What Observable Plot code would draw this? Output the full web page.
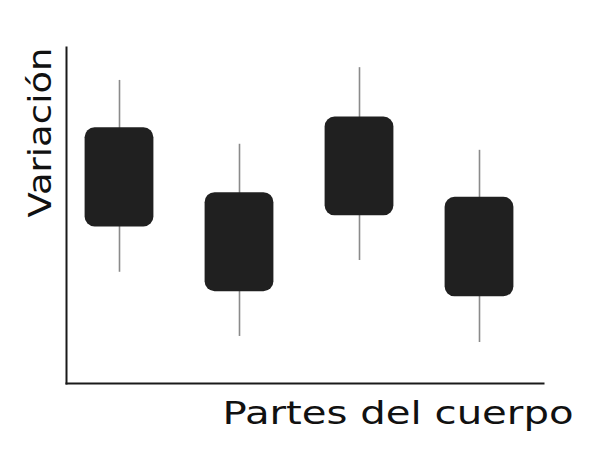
<!DOCTYPE html>
<html>
<head>
<meta charset="utf-8">
<script src="https://cdn.jsdelivr.net/npm/d3@7"></script>
<script src="https://cdn.jsdelivr.net/npm/@observablehq/plot@0.6"></script>
<style>
  html, body { margin: 0; padding: 0; background: #fff; }
</style>
</head>
<body>
<div id="chart"></div>
<script>
// Data (arbitrary units, 0–10)
const partes = ["A", "B", "C", "D"];
const minimo = [3.31, 1.40, 3.66, 1.22];
const q1 = [4.66, 2.73, 4.99, 2.58];
const q3 = [7.61, 5.68, 7.93, 5.54];
const maximo = [9.02, 7.12, 9.40, 6.94];
const xLabel = "Partes del cuerpo";
const yLabel = "Variación";

const data = partes.map((p, i) => ({parte: p, min: minimo[i], q1: q1[i], q3: q3[i], max: maximo[i]}));

const font = "DejaVu Sans";
const chart = Plot.plot({
  width: 592,
  height: 453,
  marginLeft: 66,
  marginRight: 49,
  marginTop: 47,
  marginBottom: 70,
  style: {fontFamily: font, background: "#fff"},
  x: {domain: partes, range: [57.7, 540.4], padding: 0, axis: null},
  y: {domain: [0, 10], axis: null},
  marks: [
    Plot.ruleX(data, {x: "parte", y1: "min", y2: "max", stroke: "#8a8a8a", strokeWidth: 1.6}),
    Plot.barY(data, {x: "parte", y1: "q1", y2: "q3", fill: "#202020", rx: 10, insetLeft: 25.6, insetRight: 25.6}),
    Plot.frame({anchor: "left", stroke: "#1a1a1a", strokeWidth: 2}),
    Plot.frame({anchor: "bottom", stroke: "#1a1a1a", strokeWidth: 2}),
    Plot.text([yLabel], {frameAnchor: "top-left", text: d => d, rotate: -90, textAnchor: "end", lineAnchor: "bottom", dx: -16, fontSize: 32, fill: "#111"}),
    Plot.text([xLabel], {frameAnchor: "bottom-right", text: d => d, textAnchor: "end", lineAnchor: "bottom", dx: 30, dy: 40, fontSize: 32, fill: "#111"})
  ]
});
document.getElementById("chart").appendChild(chart);

// Stretch the labels to the hand-lettered widths of the reference
d3.select(chart).selectAll("text").each(function() {
  const t = this.textContent;
  if (t === xLabel) d3.select(this).attr("textLength", 351).attr("lengthAdjust", "spacingAndGlyphs");
  if (t === yLabel) d3.select(this).attr("textLength", 170).attr("lengthAdjust", "spacingAndGlyphs");
});
</script>
</body>
</html>
